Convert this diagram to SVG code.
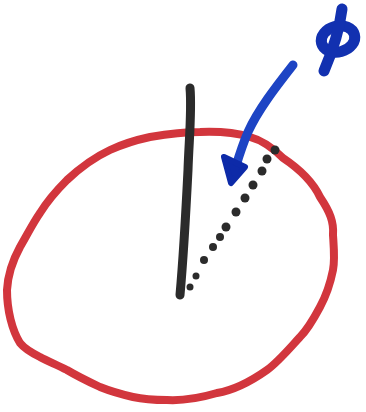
<svg xmlns="http://www.w3.org/2000/svg" width="366" height="412" viewBox="0 0 366 412">
<style>
.ring{fill:none;stroke:#d2363d;stroke-width:8;stroke-linecap:round;stroke-linejoin:round}
.axis{fill:none;stroke:#2b2b2b;stroke-width:9;stroke-linecap:round}
.dot{fill:#2b2b2b}
.blue{fill:none;stroke:#1d44c4;stroke-width:9;stroke-linecap:round}
.phi{fill:none;stroke:#1231b0;stroke-width:11;stroke-linecap:round}
</style>
<rect width="366" height="412" fill="#ffffff"/>
<g id="ring">
<path class="ring" d="M200,132 C225,131 240,134 250,137 C265,141 275,150 283,158 C295,166 312,180 320,197 C330,212 334,222 333,235 C334,250 335,260 333,270 C330,285 326,296 320,307 C312,322 307,330 300,337 C288,350 278,362 267,370 C250,382 235,390 217,393 C200,398 185,401 167,400 C150,400 142,399 133,397 C120,394 110,391 100,387 C85,380 77,376 67,370 C55,364 47,361 40,357 C30,352 24,348 20,343 C12,330 7,310 7,290 C8,272 14,258 20,247 C27,235 33,223 40,213 C48,200 57,190 67,180 C82,166 95,157 110,150 C123,144 136,140 150,137 C168,134 185,132 200,132 Z"/>
</g>
<g id="vertical">
<path class="axis" d="M190,88 C192,110 189,140 188,170 C186,210 184,250 180,295"/>
</g>
<g id="dotted">
<circle class="dot" cx="275" cy="150" r="4.5"/>
<circle class="dot" cx="267" cy="159" r="4.5"/>
<circle class="dot" cx="262" cy="171" r="4.5"/>
<circle class="dot" cx="253" cy="185" r="4.5"/>
<circle class="dot" cx="245" cy="198" r="4.5"/>
<circle class="dot" cx="236" cy="212" r="4.5"/>
<circle class="dot" cx="226" cy="227" r="4.5"/>
<circle class="dot" cx="220" cy="237" r="4"/>
<circle class="dot" cx="213" cy="247" r="4"/>
<circle class="dot" cx="204" cy="260" r="4"/>
<circle class="dot" cx="196" cy="276" r="3.5"/>
<circle class="dot" cx="190" cy="287" r="3.5"/>
</g>
<g id="arrow">
<path class="blue" d="M293,65 C275,88 258,110 248,132 C242,146 239,156 236,166"/>
<polygon points="224,157 245,167 231,183" fill="#0d2aa8" stroke="#0d2aa8" stroke-width="6" stroke-linejoin="round"/>
</g>
<g id="phi">
<ellipse class="phi" cx="338" cy="39" rx="17" ry="13" transform="rotate(-15 338 39)"/>
<path class="phi" d="M342,9 C340,25 333,50 324,71"/>
</g>
</svg>
